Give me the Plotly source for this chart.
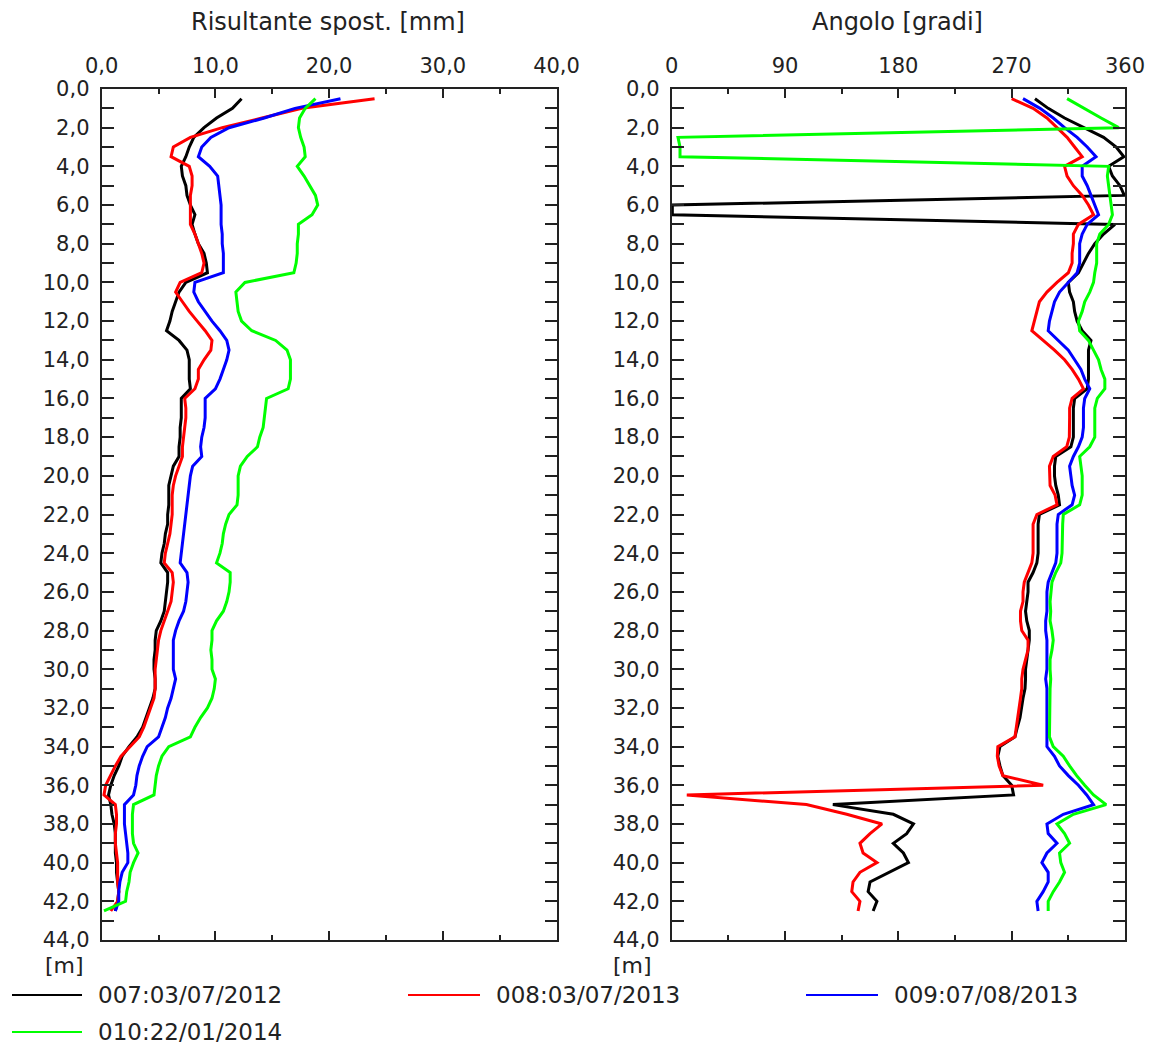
import plotly.graph_objects as go

# ---------------- data ----------------
depth = [0.5, 1.0, 1.5, 2.0, 2.5, 3.0, 3.5, 4.0, 4.5, 5.0,
         5.5, 6.0, 6.5, 7.0, 7.5, 8.0, 8.5, 9.0, 9.5, 10.0,
         10.5, 11.0, 11.5, 12.0, 12.5, 13.0, 13.5, 14.0, 14.5, 15.0,
         15.5, 16.0, 16.5, 17.0, 17.5, 18.0, 18.5, 19.0, 19.5, 20.0,
         20.5, 21.0, 21.5, 22.0, 22.5, 23.0, 23.5, 24.0, 24.5, 25.0,
         25.5, 26.0, 26.5, 27.0, 27.5, 28.0, 28.5, 29.0, 29.5, 30.0,
         30.5, 31.0, 31.5, 32.0, 32.5, 33.0, 33.5, 34.0, 34.5, 35.0,
         35.5, 36.0, 36.5, 37.0, 37.5, 38.0, 38.5, 39.0, 39.5, 40.0,
         40.5, 41.0, 41.5, 42.0, 42.5]

series_names = ["007:03/07/2012", "008:03/07/2013", "009:07/08/2013", "010:22/01/2014"]
series_colors = ["#000000", "#ff0000", "#0000ff", "#00ff00"]

# Risultante spostamento [mm]
disp_007 = [12.3, 11.5, 10.1, 9.0, 8.1, 7.7, 7.4, 7.0, 7.1, 7.4,
            7.5, 7.8, 8.2, 7.95, 8.2, 8.5, 9.0, 9.2, 9.3, 7.4,
            6.8, 6.5, 6.2, 6.0, 5.7, 6.8, 7.5, 7.7, 7.7, 7.7,
            7.8, 7.0, 7.0, 7.0, 6.9, 6.9, 6.8, 6.8, 6.3, 6.1,
            5.9, 5.9, 5.9, 5.8, 5.8, 5.6, 5.5, 5.3, 5.2, 5.8,
            5.8, 5.7, 5.6, 5.5, 5.2, 4.8, 4.7, 4.7, 4.6, 4.6,
            4.7, 4.7, 4.5, 4.2, 3.9, 3.6, 3.1, 2.4, 1.8, 1.5,
            1.1, 0.8, 0.6, 0.8, 0.9, 1.1, 1.2, 1.2, 1.2, 1.3,
            1.3, 1.4, 1.5, 1.4, 1.2]
disp_008 = [24.0, 17.6, 14.1, 10.6, 7.8, 6.3, 6.1, 7.7, 7.95, 7.95,
            7.8, 7.8, 7.8, 7.8, 8.2, 8.5, 8.8, 9.0, 8.8, 6.9,
            6.5, 7.1, 7.7, 8.4, 9.1, 9.7, 9.6, 9.0, 8.5, 8.5,
            8.2, 7.3, 7.4, 7.4, 7.3, 7.2, 7.1, 7.1, 6.8, 6.5,
            6.3, 6.2, 6.2, 6.2, 6.1, 6.0, 5.8, 5.6, 5.5, 6.2,
            6.3, 6.2, 6.1, 5.8, 5.5, 5.2, 5.0, 4.9, 4.8, 4.7,
            4.7, 4.7, 4.6, 4.3, 4.0, 3.7, 3.3, 2.5, 1.7, 1.2,
            0.8, 0.35, 0.2, 1.2, 1.3, 1.3, 1.2, 1.2, 1.3, 1.4,
            1.4, 1.4, 1.5, 1.4, 0.8]
disp_009 = [21.0, 17.0, 14.3, 11.2, 9.6, 8.8, 8.5, 9.5, 10.2, 10.3,
            10.4, 10.5, 10.5, 10.5, 10.6, 10.6, 10.7, 10.7, 10.7, 8.2,
            8.1, 8.5, 9.1, 9.7, 10.4, 11.0, 11.2, 11.0, 10.7, 10.4,
            10.0, 9.1, 9.1, 9.1, 9.0, 8.8, 8.7, 8.8, 8.0, 7.8,
            7.7, 7.6, 7.5, 7.4, 7.3, 7.2, 7.1, 7.0, 6.9, 7.5,
            7.6, 7.5, 7.4, 7.2, 6.8, 6.5, 6.3, 6.3, 6.3, 6.3,
            6.5, 6.3, 6.1, 5.8, 5.6, 5.3, 5.0, 4.0, 3.6, 3.3,
            3.1, 3.0, 2.8, 2.0, 2.0, 2.0, 2.1, 2.2, 2.3, 2.3,
            1.8, 1.6, 1.5, 1.5, 1.2]
disp_010 = [18.8, 17.9, 17.4, 17.3, 17.5, 17.8, 17.9, 17.2, 17.8, 18.3,
            18.8, 19.0, 18.5, 17.3, 17.3, 17.2, 17.2, 17.1, 16.9, 12.6,
            11.8, 11.9, 12.0, 12.3, 13.2, 15.3, 16.3, 16.6, 16.6, 16.6,
            16.4, 14.5, 14.4, 14.3, 14.2, 13.9, 13.7, 12.8, 12.2, 12.0,
            12.0, 12.0, 11.9, 11.2, 10.9, 10.7, 10.6, 10.4, 10.1, 11.3,
            11.3, 11.2, 11.0, 10.7, 10.1, 9.7, 9.7, 9.6, 9.7, 9.7,
            10.0, 9.9, 9.7, 9.3, 8.7, 8.2, 7.8, 5.9, 5.3, 5.0,
            4.8, 4.7, 4.6, 2.8, 2.7, 2.7, 2.7, 2.8, 3.2, 2.8,
            2.5, 2.4, 2.2, 2.1, 0.2]

# Angolo [gradi]
angle_007 = [288.5, 299, 312, 327, 343, 353, 359, 347, 350, 356,
             359.5, 0.5, 0.5, 352, 343, 336, 331, 327, 323, 315,
             316, 319, 320, 322, 326, 333, 331, 331, 331, 331,
             330, 320, 319, 319, 319, 319, 317, 305, 304, 304,
             305, 307, 308, 292, 291, 291, 291, 291, 290, 287,
             283, 283, 282, 281, 282, 284, 284, 283, 282, 281,
             281, 280.6, 279, 278, 276.6, 274.5, 272.6, 260.7, 259, 260.7,
             263, 270, 271.5, 128, 176, 192, 186.6, 176, 184, 188,
             173, 157.5, 156, 163, 160]
angle_008 = [270, 287, 298, 306, 314, 320, 326, 312, 314, 319,
             326, 331, 335, 323, 319, 319, 318, 318, 315, 306,
             298, 292, 290, 288.5, 286, 295, 304, 312, 318, 323,
             327, 318, 316, 316, 316, 315.8, 313.7, 303, 300, 300,
             300.5, 304.5, 306, 290, 287, 287, 287, 287, 286, 283,
             280, 279, 279, 277, 277, 278, 283, 283, 281, 279,
             278, 278, 277, 276, 275, 274, 272.6, 259, 258.6, 260,
             263, 295, 12, 107, 139, 167, 157.5, 149.5, 152, 163,
             149.5, 144, 143, 149.5, 148]
angle_009 = [279, 292.5, 303, 312, 322, 330, 337, 326, 326, 330,
             333, 336, 339, 330, 326, 324, 324, 324, 322, 315,
             308, 304, 302, 300, 299, 307, 315, 320, 325, 328,
             332, 328, 327, 327, 327, 326, 323, 319, 316, 317,
             318, 320, 318, 307, 306, 306, 306, 306, 305, 302,
             299, 298, 298, 298, 297, 297, 298, 298, 298, 298,
             297, 298, 298, 298, 298, 298, 298, 298, 304, 308,
             315, 323, 329.6, 335, 311, 298, 299, 306, 298, 294,
             299, 299, 295, 290, 291]
angle_010 = [314, 327, 341, 355, 5, 6.6, 6.6, 347, 346, 347,
             348, 349, 350, 347, 340, 337.5, 337.5, 337.5, 336, 335,
             332, 328, 326, 323, 324, 331, 335, 339, 341, 344,
             344, 338, 336, 336, 336, 336, 332, 324, 325, 326,
             326, 326, 324, 311, 310.5, 310.5, 310.5, 310, 309, 305,
             302, 301, 300.5, 301, 300.5, 302, 303, 302, 300.5, 300.5,
             301, 300.5, 300.5, 300.5, 300, 300, 300, 303, 311, 316,
             321.6, 328, 335, 345, 319, 306, 312, 316, 308, 309,
             312, 308, 303, 299, 299]

disp_series = [disp_007, disp_008, disp_009, disp_010]
angle_series = [angle_007, angle_008, angle_009, angle_010]

depth_tickvals = [0, 2, 4, 6, 8, 10, 12, 14, 16, 18, 20, 22, 24, 26, 28, 30,
                  32, 34, 36, 38, 40, 42, 44]
depth_ticktext = ["0,0", "2,0", "4,0", "6,0", "8,0", "10,0", "12,0", "14,0", "16,0",
                  "18,0", "20,0", "22,0", "24,0", "26,0", "28,0", "30,0", "32,0",
                  "34,0", "36,0", "38,0", "40,0", "42,0", "44,0"]
disp_tickvals = [0, 10, 20, 30, 40]
disp_ticktext = ["0,0", "10,0", "20,0", "30,0", "40,0"]
angle_tickvals = [0, 90, 180, 270, 360]
angle_ticktext = ["0", "90", "180", "270", "360"]

title_left = "Risultante spost. [mm]"
title_right = "Angolo [gradi]"
depth_unit = "[m]"

# ---------------- layout helpers ----------------
W, H = 1161, 1048
OFF = 8  # page body margin


def px(x):
    return (x - OFF) / W


def py(y):
    return 1 - (y - OFF) / H


TXT = "#222222"
FONT = "DejaVu Sans"

fig = go.Figure()

for name, color, xs in zip(series_names, series_colors, disp_series):
    fig.add_trace(go.Scatter(x=xs, y=depth, mode="lines", name=name,
                             line=dict(color=color, width=3),
                             xaxis="x", yaxis="y", showlegend=False))
for name, color, xs in zip(series_names, series_colors, angle_series):
    fig.add_trace(go.Scatter(x=xs, y=depth, mode="lines", name=name,
                             line=dict(color=color, width=3),
                             xaxis="x2", yaxis="y2", showlegend=False))

common_axis = dict(showline=True, linecolor=TXT, linewidth=2, mirror="ticks",
                   showgrid=False, zeroline=False, ticks="inside",
                   tickcolor=TXT, tickwidth=2, automargin=False,
                   tickfont=dict(family=FONT, size=21, color=TXT))

x_left = (101.7, 556.5)
x_right = (671.7, 1125)
y_top, y_bot = 89, 940

fig.update_layout(
    width=W, height=H,
    margin=dict(l=0, r=0, t=0, b=0, autoexpand=False),
    paper_bgcolor="white", plot_bgcolor="white",
    font=dict(family=FONT, size=21, color=TXT),
    showlegend=False,
    xaxis=dict(domain=[px(x_left[0]), px(x_left[1])], range=[0, 40], side="top",
               anchor="y", tickvals=disp_tickvals, ticktext=disp_ticktext,
               ticklen=9, ticklabelstandoff=6,
               minor=dict(ticks="inside", tickvals=[5, 15, 25, 35], ticklen=5,
                          tickwidth=2, tickcolor=TXT),
               **common_axis),
    yaxis=dict(domain=[py(y_bot), py(y_top)], range=[44, 0], anchor="x",
               tickvals=depth_tickvals, ticktext=depth_ticktext,
               ticklen=12, ticklabelstandoff=6,
               minor=dict(ticks="inside", dtick=1, ticklen=12, tickwidth=2, tickcolor=TXT),
               **common_axis),
    xaxis2=dict(domain=[px(x_right[0]), px(x_right[1])], range=[0, 360], side="top",
                anchor="y2", tickvals=angle_tickvals, ticktext=angle_ticktext,
                ticklen=9, ticklabelstandoff=6,
                minor=dict(ticks="inside", tickvals=[45, 135, 225, 315], ticklen=5,
                           tickwidth=2, tickcolor=TXT),
                **common_axis),
    yaxis2=dict(domain=[py(y_bot), py(y_top)], range=[44, 0], anchor="x2",
                tickvals=depth_tickvals, ticktext=depth_ticktext,
                ticklen=12, ticklabelstandoff=6,
                minor=dict(ticks="inside", dtick=1, ticklen=12, tickwidth=2, tickcolor=TXT),
                **common_axis),
)

annotations = [
    dict(text=title_left, x=px(328), y=py(22)),
    dict(text=title_right, x=px(897), y=py(22)),
]
for a in annotations:
    a.update(xref="paper", yref="paper", showarrow=False, xanchor="center",
             yanchor="middle", font=dict(family=FONT, size=24, color=TXT))
for xx in (64, 632):
    annotations.append(dict(text=depth_unit, x=px(xx), y=py(965), xref="paper",
                            yref="paper", showarrow=False, xanchor="center",
                            yanchor="middle", font=dict(family=FONT, size=22, color=TXT)))

# custom legend (lines + labels)
legend_pos = [(12, 82, 995), (408, 480, 995), (806, 878, 995), (12, 82, 1032)]
shapes = []
for (x0, x1, yy), name, color in zip(legend_pos, series_names, series_colors):
    shapes.append(dict(type="line", xref="paper", yref="paper",
                       x0=px(x0), x1=px(x1), y0=py(yy), y1=py(yy),
                       line=dict(color=color, width=2)))
    annotations.append(dict(text=name, xref="paper", yref="paper",
                            x=px(x1 + 14), y=py(yy), xanchor="left", yanchor="middle",
                            showarrow=False,
                            font=dict(family=FONT, size=23, color=TXT)))

fig.update_layout(annotations=annotations, shapes=shapes)

fig.write_html("out.html")
